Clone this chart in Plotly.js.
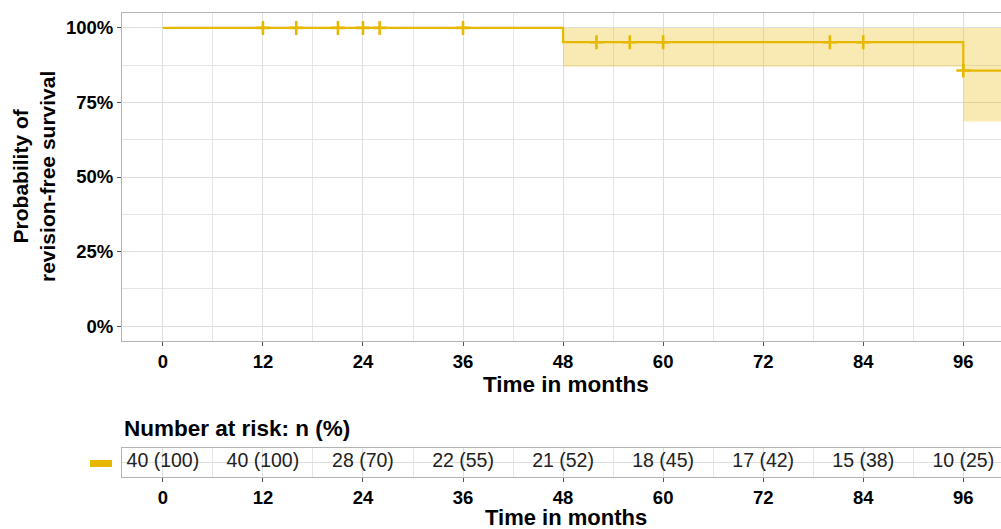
<!DOCTYPE html>
<html>
<head>
<meta charset="utf-8">
<script src="https://cdn.plot.ly/plotly-3.0.1.min.js"></script>
<style>
html, body { margin:0; padding:0; width:1001px; height:529px; overflow:hidden; background:#fff; }
#chart { width:1012px; height:529px; }
</style>
</head>
<body>
<div id="chart"></div>
<script>
// ---- data ----
const stepTimes = [0, 48, 96, 105];          // start of each step (last = end of follow-up drawn)
const survival  = [1.0, 0.952, 0.857, 0.857];
const ciLower   = [1.0, 0.870, 0.686, 0.686];
const ciUpper   = [1.0, 1.0, 1.0, 1.0];
const censorTimes = [12, 16, 21, 24, 26, 36, 52, 56, 60, 80, 84, 96];
const riskTimes = [0, 12, 24, 36, 48, 60, 72, 84, 96];
const riskN     = [40, 40, 28, 22, 21, 18, 17, 15, 10];
const riskPct   = [100, 100, 70, 55, 52, 45, 42, 38, 25];
const yTickVals = [0, 0.25, 0.5, 0.75, 1];
const yTickText = ['0%', '25%', '50%', '75%', '100%'];

const gold = '#E7B800';
const band = 'rgba(231,184,0,0.30)';
const FONT = '"Liberation Sans", Arial, sans-serif';

function survAt(t) {
  let s = survival[0];
  for (let i = 0; i < stepTimes.length; i++) { if (stepTimes[i] <= t) s = survival[i]; }
  return s;
}

const traces = [
  { x: stepTimes, y: ciUpper, mode: 'lines', line: { shape: 'hv', width: 0, color: band },
    hoverinfo: 'skip', showlegend: false, xaxis: 'x', yaxis: 'y' },
  { x: stepTimes, y: ciLower, mode: 'lines', line: { shape: 'hv', width: 0, color: band },
    fill: 'tonexty', fillcolor: band, hoverinfo: 'skip', showlegend: false, xaxis: 'x', yaxis: 'y' },
  { x: stepTimes, y: survival, mode: 'lines', line: { shape: 'hv', width: 2.2, color: gold },
    showlegend: false, xaxis: 'x', yaxis: 'y' },
  { x: censorTimes, y: censorTimes.map(survAt), mode: 'markers',
    marker: { symbol: 'cross-thin', size: 10, line: { width: 2.6, color: gold }, color: gold },
    showlegend: false, xaxis: 'x', yaxis: 'y' },
  { x: riskTimes, y: riskTimes.map(() => 1), mode: 'text',
    text: riskN.map((n, i) => n + ' (' + riskPct[i] + ')'),
    textfont: { family: FONT, size: 19.5, color: '#222' }, textposition: 'middle center',
    showlegend: false, xaxis: 'x2', yaxis: 'y2' }
];

const xRange = [-4.9, 101.6];
const gridC = '#DEDEDE';
const tickFont = { family: FONT, size: 18.5, color: '#000', weight: 'bold' };

const P = (px) => (px - 122) / 888;   // helpers for annotation placement
const Q = (py) => (477 - py) / 464;

const layout = {
  width: 1012, height: 529,
  margin: { l: 122, r: 2, t: 13, b: 52 },
  paper_bgcolor: '#fff', plot_bgcolor: '#fff',
  showlegend: false,
  xaxis: {
    domain: [0, 1], anchor: 'y', range: xRange, tickvals: riskTimes, ticktext: riskTimes.map(String),
    showgrid: true, gridcolor: gridC, gridwidth: 1,
    minor: { dtick: 6, tick0: 0, showgrid: true, gridcolor: gridC, gridwidth: 0.8 },
    showline: true, mirror: true, linecolor: '#B3B3B3', linewidth: 1,
    ticks: 'outside', ticklen: 4, tickcolor: '#555', tickwidth: 1,
    tickfont: tickFont, zeroline: false
  },
  yaxis: {
    domain: [Q(341), 1], anchor: 'x', range: [-0.05, 1.05],
    tickvals: yTickVals, ticktext: yTickText,
    showgrid: true, gridcolor: gridC, gridwidth: 1,
    minor: { dtick: 0.125, tick0: 0, showgrid: true, gridcolor: gridC, gridwidth: 0.8 },
    showline: true, mirror: true, linecolor: '#B3B3B3', linewidth: 1,
    ticks: 'outside', ticklen: 4, tickcolor: '#555', tickwidth: 1,
    tickfont: tickFont, zeroline: false
  },
  xaxis2: {
    domain: [0, 1], anchor: 'y2', range: xRange, tickvals: riskTimes, ticktext: riskTimes.map(String),
    showgrid: true, gridcolor: gridC, gridwidth: 1,
    minor: { dtick: 6, tick0: 0, showgrid: true, gridcolor: gridC, gridwidth: 0.8 },
    showline: true, mirror: true, linecolor: '#B3B3B3', linewidth: 1,
    ticks: 'outside', ticklen: 4, tickcolor: '#555', tickwidth: 1,
    tickfont: tickFont, zeroline: false
  },
  yaxis2: {
    domain: [0, Q(448)], anchor: 'x2', range: [0.5, 1.5],
    tickvals: [1], showticklabels: false, ticks: '',
    showgrid: true, gridcolor: gridC, gridwidth: 1,
    showline: true, mirror: true, linecolor: '#B3B3B3', linewidth: 1, zeroline: false
  },
  shapes: [
    { type: 'rect', xref: 'paper', yref: 'paper', x0: P(90), x1: P(112), y0: Q(467), y1: Q(460),
      fillcolor: gold, line: { width: 0 } }
  ],
  annotations: [
    { text: 'Time in months', xref: 'paper', yref: 'paper', x: 0.5, y: Q(384),
      xanchor: 'center', yanchor: 'middle', showarrow: false,
      font: { family: FONT, size: 22.5, color: '#000', weight: 'bold' } },
    { text: 'Probability of<br>revision-free survival', xref: 'paper', yref: 'paper', x: P(34), y: Q(177),
      xanchor: 'center', yanchor: 'middle', showarrow: false, textangle: -90,
      font: { family: FONT, size: 21, color: '#000', weight: 'bold' } },
    { text: 'Number at risk: n (%)', xref: 'paper', yref: 'paper', x: P(122), y: Q(428),
      xanchor: 'left', yanchor: 'middle', showarrow: false,
      font: { family: FONT, size: 22.5, color: '#000', weight: 'bold' } },
    { text: 'Time in months', xref: 'paper', yref: 'paper', x: 0.5, y: Q(517),
      xanchor: 'center', yanchor: 'middle', showarrow: false,
      font: { family: FONT, size: 22, color: '#000', weight: 'bold' } }
  ]
};

Plotly.newPlot('chart', traces, layout, { displayModeBar: false, staticPlot: true });
</script>
</body>
</html>
